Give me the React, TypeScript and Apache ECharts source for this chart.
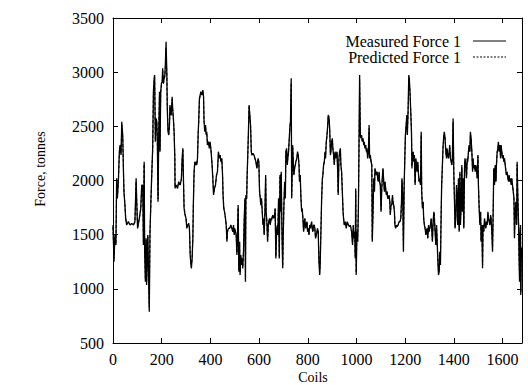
import React, { useEffect, useRef } from "react";
import * as echarts from "echarts";

const coils = [
  0, 4, 8, 12, 15, 18, 22, 26, 29, 33, 36, 40, 43, 45, 49, 52, 56, 63, 70, 77, 84, 90, 95, 97, 101, 108, 114, 118, 122, 125,
  128, 130, 133, 136, 138, 143, 147, 149, 152, 156, 160, 163, 166, 169, 171, 174, 177, 180, 182, 185, 188, 191, 193, 196, 199,
  202, 204, 207, 210, 213, 215, 218, 221, 223, 226, 229, 232, 234, 239, 243, 245, 248, 251, 254, 255, 259, 265, 270, 276, 281,
  284, 287, 289, 292, 296, 300, 303, 307, 311, 314, 317, 320, 322, 325, 328, 330, 333, 336, 339, 341, 344, 347, 350, 352, 355,
  358, 361, 365, 369, 372, 374, 377, 380, 383, 385, 388, 392, 396, 399, 403, 407, 410, 413, 417, 421, 425, 429, 433, 437, 440,
  443, 447, 450, 452, 455, 458, 462, 465, 468, 470, 474, 479, 484, 488, 492, 495, 498, 500, 503, 506, 509, 511, 514, 517, 520,
  522, 525, 528, 531, 533, 536, 539, 542, 544, 546, 549, 551, 554, 557, 559, 562, 565, 568, 570, 575, 579, 583, 587, 591, 594,
  596, 599, 602, 605, 607, 610, 613, 616, 618, 621, 624, 627, 629, 632, 635, 638, 640, 643, 646, 649, 651, 654, 657, 660, 664,
  666, 669, 672, 675, 677, 680, 683, 686, 688, 691, 694, 697, 699, 702, 705, 708, 710, 713, 716, 718, 721, 724, 727, 729, 732,
  734, 738, 740, 743, 746, 749, 751, 755, 758, 761, 764, 766, 769, 772, 775, 777, 780, 783, 786, 788, 791, 794, 797, 799, 802,
  805, 808, 810, 813, 816, 818, 821, 824, 827, 829, 832, 835, 838, 840, 843, 846, 849, 851, 854, 857, 860, 862, 865, 868, 871,
  873, 876, 879, 882, 884, 887, 890, 893, 895, 898, 901, 903, 906, 909, 912, 914, 917, 920, 923, 925, 928, 931, 934, 936, 939,
  942, 945, 947, 950, 954, 958, 962, 967, 971, 975, 980, 984, 987, 990, 993, 995, 997, 999, 1002, 1005, 1008, 1010, 1013, 1016, 1019,
  1021, 1024, 1027, 1030, 1032, 1035, 1038, 1041, 1043, 1046, 1049, 1052, 1054, 1057, 1060, 1063, 1065, 1068, 1071, 1074, 1076, 1079, 1082, 1085, 1087,
  1090, 1093, 1095, 1098, 1101, 1104, 1106, 1109, 1112, 1115, 1117, 1120, 1123, 1126, 1128, 1131, 1134, 1137, 1139, 1142, 1145, 1148, 1150, 1153, 1156,
  1158, 1161, 1164, 1167, 1171, 1175, 1179, 1182, 1185, 1187, 1190, 1193, 1196, 1198, 1201, 1204, 1207, 1209, 1212, 1215, 1217, 1220, 1223, 1226, 1228,
  1230, 1233, 1235, 1238, 1241, 1244, 1246, 1249, 1252, 1255, 1257, 1260, 1263, 1266, 1268, 1271, 1274, 1276, 1279, 1282, 1285, 1287, 1290, 1293, 1296,
  1298, 1301, 1304, 1307, 1309, 1312, 1315, 1318, 1320, 1323, 1326, 1329, 1331, 1334, 1337, 1340, 1342, 1345, 1348, 1350, 1353, 1356, 1359, 1361, 1364,
  1367, 1370, 1372, 1375, 1378, 1381, 1383, 1386, 1389, 1392, 1394, 1397, 1400, 1403, 1405, 1408, 1411, 1414, 1416, 1419, 1422, 1425, 1427, 1430, 1433,
  1435, 1438, 1441, 1444, 1446, 1449, 1452, 1455, 1457, 1460, 1463, 1466, 1468, 1471, 1474, 1477, 1479, 1482, 1485, 1488, 1490, 1493, 1496, 1499, 1501,
  1504, 1507, 1510, 1512, 1515, 1518, 1520, 1523, 1526, 1529, 1531, 1534, 1537, 1540, 1542, 1545, 1548, 1551, 1553, 1556, 1559, 1562, 1564, 1567, 1570,
  1573, 1575, 1578, 1581, 1583, 1586, 1589, 1592, 1594, 1597, 1600, 1603, 1605, 1608, 1611, 1614, 1616, 1619, 1622, 1625, 1627, 1630, 1633, 1636, 1638,
  1641, 1644, 1647, 1649, 1652, 1655, 1658, 1660, 1663, 1666, 1668, 1670, 1671, 1674, 1675, 1677, 1680,
];

const measuredForce = [
  1589, 1250, 1497, 1404, 2020, 1835, 1989, 2266, 2327, 2235, 2543, 2420, 2081, 1897, 1773, 1650, 1589, 1620, 1589, 1604, 1589, 1620, 2020, 1835, 1558, 1650, 1743, 1958, 1958, 1404,
  2173, 1343, 1066, 1466, 1035, 1497, 1004, 789, 1527, 1835, 2112, 2297, 2820, 2943, 2973, 2358, 2573, 2543, 2389, 1804, 2450, 2820, 2266, 2820, 2897,
  2912, 3035, 2897, 2943, 2973, 3066, 3281, 3004, 2666, 2450, 2420, 2512, 2697, 2600, 2773, 2666, 2573, 2450, 2204, 1927, 1958, 1927, 1989, 1958, 2020,
  2204, 2297, 2050, 1743, 1681, 1650, 1558, 1589, 1604, 1558, 1312, 1220, 1189, 1281, 1466, 1773, 2081, 2173, 2143, 2173, 2143, 2204, 2450, 2543, 2758,
  2789, 2820, 2789, 2835, 2773, 2543, 2450, 2512, 2420, 2450, 2327, 2358, 2297, 2358, 2266, 2143, 2020, 1866, 1927, 1958, 2050, 2081, 2266, 2204, 2235,
  2173, 2204, 2050, 1866, 1743, 1712, 1650, 1589, 1435, 1527, 1558, 1558, 1589, 1558, 1527, 1589, 1497, 1558, 1527, 1497, 1312, 1466, 1773, 1158, 1435,
  1127, 1312, 1220, 1281, 1189, 1343, 1650, 1835, 1066, 1866, 1835, 2050, 2266, 2512, 2697, 2604, 2512, 2266, 2235, 2250, 2235, 2204, 2173, 2112, 2173,
  2204, 2173, 1897, 1835, 1773, 1835, 1712, 1589, 1650, 1497, 1712, 2050, 1712, 1620, 1435, 1589, 1620, 1650, 1589, 1650, 1635, 1666, 1681, 1650, 1681,
  1743, 1281, 1527, 1589, 1497, 1835, 1281, 2050, 1712, 2081, 1527, 1189, 1466, 1773, 1989, 1835, 2266, 2297, 2143, 2204, 2266, 2389, 2512, 2543, 2943,
  1835, 2327, 2204, 2050, 2112, 2143, 2173, 2204, 2266, 2235, 2143, 1989, 2050, 1835, 1712, 1743, 1650, 1527, 1620, 1650, 1558, 1589, 1620, 1527, 1558,
  1497, 1589, 1558, 1589, 1620, 1558, 1527, 1589, 1589, 1558, 1466, 1497, 1527, 1558, 1527, 1250, 1127, 1220, 1527, 1835, 2020, 2050, 2143, 2173, 2266,
  2204, 2358, 2420, 2512, 2604, 2589, 2481, 2235, 2266, 2358, 2389, 2297, 2235, 2143, 2266, 2235, 2204, 2266, 2081, 1866, 2204, 2266, 2297, 2143, 2081,
  1897, 1712, 1650, 1589, 1620, 1558, 1620, 1589, 1573, 1589, 1527, 1404, 1589, 1466, 1527, 1281, 1927, 1127, 1527, 1435, 1743, 2204, 2973, 2420, 2389,
  2420, 2358, 2389, 2327, 2358, 2297, 2327, 2266, 2297, 2204, 2266, 2512, 2204, 2235, 2173, 2143, 1435, 1712, 2020, 1897, 2112, 2081, 2050, 2081, 2020,
  1989, 2081, 1989, 1958, 1712, 1927, 2020, 2112, 1989, 1897, 1989, 1927, 1866, 1897, 1835, 1835, 1866, 1804, 1681, 1773, 1773, 1866, 1804, 1773, 1712,
  1589, 1558, 1589, 1573, 1589, 1620, 1620, 1650, 1804, 2020, 1866, 1343, 1958, 2143, 2420, 2512, 2604, 2420, 2635, 2973, 2943, 2820, 2635, 2450, 2112,
  2235, 2266, 2173, 2235, 1958, 2204, 2143, 2081, 2173, 2050, 1989, 2020, 1958, 2450, 1897, 1743, 1804, 1650, 1589, 1558, 1497, 1527, 1558, 1466, 1589,
  1527, 1558, 1589, 1650, 1558, 1435, 1620, 1712, 1712, 1527, 1404, 1589, 1466, 1281, 1127, 1158, 1343, 1220, 1712, 1958, 2143, 2327, 2420, 2450, 2389,
  2266, 2204, 2297, 2235, 2204, 2266, 2327, 2204, 2173, 2143, 2204, 2573, 2050, 1773, 1558, 1650, 1958, 1835, 1589, 2020, 1527, 2081, 1589, 1773, 2143,
  1712, 2020, 1558, 2112, 2204, 2143, 2020, 2204, 2173, 2266, 2327, 2266, 2450, 2389, 2266, 2081, 2204, 2112, 2143, 2081, 2143, 2112, 2020, 2235, 1958,
  1743, 1589, 1712, 1435, 1589, 1189, 1589, 1527, 1650, 1589, 1558, 1620, 1589, 1712, 1650, 1620, 1589, 1681, 1650, 1527, 1343, 1773, 2112, 1958, 2143,
  1989, 2143, 2266, 2297, 2358, 2266, 2327, 2204, 2327, 2266, 2204, 2235, 2173, 2204, 2143, 2081, 2050, 2081, 2020, 1989, 2050, 1989, 2020, 1958, 2020,
  1958, 1897, 1835, 1466, 1712, 1804, 1589, 2173, 1835, 1589, 1281, 1066, 1466, 1589, 943, 1281, 1380,
];

const predictedForce = [
  1570, 1280, 1480, 1420, 1990, 1850, 1975, 2240, 2310, 2250, 2510, 2400, 2100, 1910, 1780, 1660, 1595, 1615, 1592, 1600, 1592, 1615, 1990, 1850, 1565, 1645, 1735, 1940, 1950, 1420,
  2150, 1360, 1090, 1450, 1060, 1480, 1030, 830, 1510, 1820, 2100, 2280, 2790, 2920, 2950, 2380, 2560, 2530, 2400, 1830, 2430, 2800, 2280, 2800, 2880,
  2900, 3010, 2890, 2930, 2960, 3040, 3220, 2990, 2680, 2470, 2430, 2500, 2680, 2610, 2750, 2660, 2570, 2460, 2220, 1940, 1955, 1935, 1980, 1960, 2010,
  2190, 2280, 2060, 1760, 1690, 1655, 1565, 1585, 1600, 1565, 1330, 1235, 1205, 1290, 1460, 1760, 2060, 2160, 2150, 2165, 2150, 2195, 2430, 2530, 2740,
  2780, 2805, 2790, 2820, 2770, 2560, 2460, 2500, 2430, 2445, 2335, 2350, 2305, 2350, 2270, 2150, 2030, 1880, 1925, 1955, 2040, 2075, 2250, 2210, 2230,
  2180, 2195, 2060, 1880, 1755, 1715, 1655, 1595, 1450, 1520, 1555, 1560, 1585, 1560, 1530, 1580, 1505, 1550, 1530, 1500, 1330, 1460, 1750, 1180, 1430,
  1150, 1300, 1230, 1275, 1205, 1340, 1630, 1820, 1090, 1850, 1830, 2040, 2250, 2490, 2680, 2600, 2510, 2280, 2240, 2245, 2235, 2205, 2175, 2120, 2165,
  2200, 2170, 1910, 1840, 1785, 1825, 1720, 1600, 1645, 1510, 1700, 2030, 1720, 1625, 1450, 1580, 1615, 1645, 1595, 1645, 1635, 1660, 1675, 1655, 1675,
  1735, 1300, 1520, 1580, 1505, 1820, 1300, 2030, 1720, 2060, 1540, 1210, 1460, 1760, 1975, 1845, 2250, 2285, 2155, 2200, 2260, 2375, 2495, 2530, 2900,
  1860, 2310, 2210, 2060, 2110, 2140, 2170, 2200, 2255, 2235, 2150, 2000, 2045, 1850, 1720, 1740, 1655, 1540, 1615, 1645, 1565, 1585, 1610, 1535, 1555,
  1505, 1580, 1560, 1585, 1610, 1560, 1535, 1585, 1585, 1560, 1475, 1500, 1525, 1555, 1525, 1270, 1150, 1235, 1520, 1820, 2005, 2045, 2135, 2170, 2255,
  2210, 2345, 2410, 2500, 2585, 2575, 2470, 2250, 2270, 2345, 2375, 2300, 2240, 2155, 2255, 2235, 2210, 2260, 2090, 1885, 2190, 2255, 2285, 2150, 2085,
  1910, 1725, 1655, 1595, 1615, 1565, 1610, 1590, 1575, 1585, 1530, 1420, 1580, 1475, 1525, 1300, 1900, 1150, 1515, 1440, 1730, 2180, 2930, 2430, 2395,
  2410, 2365, 2380, 2335, 2350, 2305, 2320, 2275, 2290, 2215, 2260, 2480, 2215, 2230, 2180, 2150, 1460, 1705, 2005, 1905, 2100, 2080, 2055, 2075, 2025,
  1995, 2070, 1995, 1960, 1730, 1920, 2010, 2100, 1995, 1905, 1980, 1930, 1875, 1895, 1840, 1840, 1860, 1810, 1695, 1770, 1775, 1855, 1810, 1775, 1720,
  1600, 1565, 1585, 1575, 1590, 1615, 1620, 1645, 1790, 2000, 1870, 1370, 1945, 2130, 2400, 2500, 2590, 2430, 2620, 2940, 2920, 2810, 2640, 2460, 2130,
  2230, 2260, 2180, 2230, 1975, 2195, 2145, 2090, 2165, 2055, 1995, 2015, 1965, 2420, 1910, 1755, 1800, 1660, 1595, 1565, 1505, 1525, 1555, 1475, 1580,
  1530, 1555, 1585, 1640, 1565, 1450, 1610, 1700, 1705, 1535, 1420, 1580, 1475, 1300, 1150, 1175, 1340, 1240, 1700, 1945, 2130, 2310, 2410, 2440, 2390,
  2275, 2210, 2290, 2240, 2210, 2260, 2315, 2210, 2180, 2150, 2200, 2540, 2070, 1790, 1570, 1650, 1940, 1840, 1600, 2005, 1545, 2060, 1600, 1770, 2120,
  1725, 2005, 1575, 2100, 2195, 2145, 2030, 2195, 2175, 2255, 2315, 2270, 2430, 2385, 2275, 2095, 2195, 2115, 2140, 2090, 2135, 2110, 2030, 2220, 1970,
  1755, 1600, 1705, 1450, 1580, 1215, 1580, 1535, 1640, 1590, 1565, 1615, 1595, 1700, 1655, 1620, 1595, 1670, 1650, 1535, 1365, 1760, 2095, 1965, 2130,
  2000, 2135, 2255, 2290, 2345, 2270, 2315, 2215, 2315, 2265, 2210, 2230, 2180, 2200, 2150, 2090, 2055, 2075, 2025, 1995, 2045, 1995, 2015, 1965, 2010,
  1960, 1905, 1840, 1490, 1705, 1795, 1600, 2145, 1840, 1600, 1300, 1090, 1460, 1580, 970, 1290, 1390,
];

const FONT = "'Liberation Serif', 'Times New Roman', serif";

export default function App() {
  const ref = useRef<HTMLDivElement>(null);

  useEffect(() => {
    if (!ref.current) return;
    const chart = echarts.init(ref.current, undefined, { renderer: "svg" });

    const axisCommon = {
      type: "value" as const,
      axisLine: { show: true, onZero: false, lineStyle: { color: "#000", width: 1 } },
      axisTick: { show: true, inside: true, length: 5, lineStyle: { color: "#000", width: 1 } },
      splitLine: { show: false },
    };

    const plain = (v: number) => String(v);

    chart.setOption({
      animation: false,
      backgroundColor: "#fff",
      grid: { left: 113, right: 6, top: 18, bottom: 42, containLabel: false },
      xAxis: [
        {
          ...axisCommon,
          position: "bottom",
          min: 0,
          max: 1680,
          interval: 200,
          axisLabel: {
            color: "#000",
            fontFamily: FONT,
            fontSize: 16,
            margin: 8,
            showMaxLabel: false,
            formatter: plain,
          },
        },
        {
          ...axisCommon,
          position: "top",
          min: 0,
          max: 1680,
          interval: 200,
          axisLabel: { show: false },
        },
      ],
      yAxis: [
        {
          ...axisCommon,
          position: "left",
          min: 500,
          max: 3500,
          interval: 500,
          axisLabel: { color: "#000", fontFamily: FONT, fontSize: 16, margin: 9, formatter: plain },
        },
        {
          ...axisCommon,
          position: "right",
          min: 500,
          max: 3500,
          interval: 500,
          axisLabel: { show: false },
        },
      ],
      series: [
        {
          name: "Measured Force 1",
          type: "line",
          xAxisIndex: 0,
          yAxisIndex: 0,
          symbol: "none",
          showSymbol: false,
          data: coils.map((c, i) => [c, measuredForce[i]]),
          lineStyle: { color: "#000", width: 1.3 },
          z: 2,
        },
        {
          name: "Predicted Force 1",
          type: "line",
          xAxisIndex: 0,
          yAxisIndex: 0,
          symbol: "none",
          showSymbol: false,
          data: coils.map((c, i) => [c, predictedForce[i]]),
          lineStyle: { color: "#000", width: 1, type: [3, 2] },
          z: 3,
        },
      ],
      graphic: [
        {
          type: "text",
          x: 461,
          y: 41,
          style: {
            text: "Measured Force 1",
            fontFamily: FONT,
            fontSize: 16,
            fill: "#000",
            align: "right",
            verticalAlign: "middle",
          },
        },
        {
          type: "line",
          shape: { x1: 473, y1: 41, x2: 506, y2: 41 },
          style: { stroke: "#000", lineWidth: 1 },
        },
        {
          type: "text",
          x: 461,
          y: 57,
          style: {
            text: "Predicted Force 1",
            fontFamily: FONT,
            fontSize: 16,
            fill: "#000",
            align: "right",
            verticalAlign: "middle",
          },
        },
        {
          type: "line",
          shape: { x1: 473, y1: 57, x2: 506, y2: 57 },
          style: { stroke: "#000", lineWidth: 1, lineDash: [2, 1.5] },
        },
        {
          type: "text",
          x: 40,
          y: 169,
          rotation: Math.PI / 2,
          style: {
            text: "Force, tonnes",
            fontFamily: FONT,
            fontSize: 14,
            fill: "#000",
            align: "center",
            verticalAlign: "middle",
          },
        },
        {
          type: "text",
          x: 313,
          y: 377,
          style: {
            text: "Coils",
            fontFamily: FONT,
            fontSize: 14,
            fill: "#000",
            align: "center",
            verticalAlign: "middle",
          },
        },
      ],
    });

    return () => chart.dispose();
  }, []);

  return (
    <div
      ref={ref}
      style={{ position: "fixed", left: 0, top: 0, width: 528, height: 385 }}
    />
  );
}
